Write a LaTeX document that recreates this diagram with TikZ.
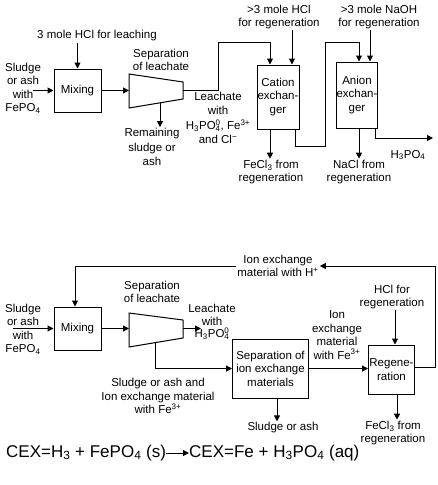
\documentclass[tikz,border=0pt]{standalone}
\usepackage{fontspec}
\setmainfont{Liberation Sans}
\usetikzlibrary{arrows.meta}
\begin{document}
\begin{tikzpicture}[x=1pt,y=-1pt,
  every node/.style={font=\fontsize{11.5}{13.5}\selectfont, inner sep=1pt},
  txt/.style={align=center},
  box/.style={draw, line width=1pt, align=center, inner sep=0pt},
  ln/.style={line width=1pt},
  arr/.style={ln, -{Triangle[length=6pt,width=6pt]}},
  eqf/.style={font=\fontsize{17}{20}\selectfont, anchor=west, inner sep=0pt}
]
\useasboundingbox (0,0) rectangle (437,485);

% ---------------- top process ----------------
\node[txt] (hcl1) at (97,36) {3 mole HCl for leaching};
\node[box, minimum width=47pt, minimum height=43pt] (mix1) at (77.5,90.5) {Mixing};
\node[txt] (feed1) at (23,88) {Sludge\\or ash\\with\\FePO\textsubscript{4}};
\coordinate (f1) at (33,90.5);
\draw[arr] (hcl1.south -| mix1.north) -- (mix1.north);
\draw[arr] (f1) -- (mix1.west);

\coordinate (t1nw) at (129,74);
\coordinate (t1ne) at (183,82);
\coordinate (t1se) at (183,99);
\coordinate (t1sw) at (129,108);
\coordinate (t1w) at (129,90.5);
\coordinate (t1e) at (183,90.5);
\coordinate (t1b) at (160,102.8);
\draw[ln] (t1nw) -- (t1ne) -- (t1se) -- (t1sw) -- cycle;
\node[txt] (sep1) at (161,60) {Separation\\of leachate};
\node[txt, font=\fontsize{11.5}{14.5}\selectfont] (rem1) at (152,147) {Remaining\\sludge or\\ash};
\draw[arr] (mix1.east) -- (t1w);
\draw[arr] (t1b) -- (t1b |- rem1.north);

\node[txt, font=\fontsize{11.5}{14.5}\selectfont] (lch1) at (218,118) {Leachate\\with\\H\textsubscript{3}PO\rlap{\textsubscript{4}}\textsuperscript{0}, Fe\textsuperscript{3+}\\and Cl\textsuperscript{−}};

\node[txt] (hcl2) at (279,17) {>3 mole HCl\\for regeneration};
\node[txt] (naoh) at (379,17) {>3 mole NaOH\\for regeneration};
\node[box, minimum width=42pt, minimum height=64pt] (cat) at (278,97) {Cation\\exchan-\\ger};
\node[box, minimum width=41pt, minimum height=66pt] (an) at (357,95) {Anion\\exchan-\\ger};
\node[txt] (fecl1) at (271,172) {FeCl\textsubscript{3} from\\regeneration};
\node[txt] (nacl) at (359,172) {NaCl from\\regeneration};
\node[txt] (h3) at (408,155) {H\textsubscript{3}PO\textsubscript{4}};
\coordinate (h3end) at (433,138);

\draw[arr] (t1e) -| (218,42) -| ([xshift=-8pt]cat.north);
\draw[arr] ([xshift=14pt]cat.north |- hcl2.south) -- ([xshift=14pt]cat.north);
\draw[arr] ([xshift=-8pt]cat.south) -- ([xshift=-8pt]cat.south |- fecl1.north);
\draw[arr] ([xshift=-4pt]cat.south east) -- ++(0,17) -| (325,42) -| ([xshift=2pt]an.north);
\draw[arr] ([xshift=13pt]an.north |- naoh.south) -- ([xshift=13pt]an.north);
\draw[arr] ([xshift=2pt]an.south) -- ([xshift=2pt]an.south |- nacl.north);
\draw[arr] ([xshift=-3pt]an.south east) |- (h3end);

% ---------------- bottom process ----------------
\node[box, minimum width=47pt, minimum height=43pt] (mix2) at (77.5,328.5) {Mixing};
\node[txt] (feed2) at (23,329) {Sludge\\or ash\\with\\FePO\textsubscript{4}};
\coordinate (f2) at (13,328.5);
\draw[arr] (f2) -- (mix2.west);

\coordinate (t2nw) at (129,313);
\coordinate (t2ne) at (183,320);
\coordinate (t2se) at (183,338);
\coordinate (t2sw) at (129,347);
\coordinate (t2w) at (129,328.5);
\coordinate (t2e) at (183,328.5);
\coordinate (t2b) at (155,342.7);
\draw[ln] (t2nw) -- (t2ne) -- (t2se) -- (t2sw) -- cycle;
\node[txt] (sep2) at (152,292) {Separation\\of leachate};
\draw[arr] (mix2.east) -- (t2w);

\node[txt, font=\fontsize{11.5}{12.5}\selectfont] (lch2) at (212,322) {Leachate\\with\\H\textsubscript{3}PO\rlap{\textsubscript{4}}\textsuperscript{0}};
\coordinate (l2end) at (201,328.5);
\draw[arr] (t2e) -- (l2end);

\node[box, minimum width=76pt, minimum height=59pt] (sepx) at (270.5,368.5) {Separation of\\ion exchange\\materials};
\draw[arr] (t2b) |- (sepx.west);
\node[txt] (sl2) at (158,396) {Sludge or ash and\\Ion exchange material\\with Fe\textsuperscript{3+}};
\node[txt] (sl3) at (283,428) {Sludge or ash};
\draw[arr] ([xshift=6.5pt]sepx.south) -- ([xshift=6.5pt]sepx.south |- sl3.north);

\node[box, minimum width=46pt, minimum height=49pt] (regen) at (391.5,369.5) {Regene-\\ration};
\draw[arr] (sepx.east) -- (sepx.east -| regen.west);
\node[txt] (ionfe) at (337,335) {Ion\\exchange\\material\\with Fe\textsuperscript{3+}};
\node[txt] (hcl3) at (392,297) {HCl for\\regeneration};
\draw[arr] ([xshift=3.5pt]regen.north |- hcl3.south) -- ([xshift=3.5pt]regen.north);
\node[txt] (fecl2) at (393,433) {FeCl\textsubscript{3} from\\regeneration};
\draw[arr] ([xshift=5.5pt]regen.south) -- ([xshift=5.5pt]regen.south |- fecl2.north);

\node[txt] (ionh) at (278,266) {Ion exchange\\material with H\textsuperscript{+}};
\draw[arr] ([yshift=2.5pt]regen.east) -- ++(20,0) |- (ionh.east);
\draw[arr] (ionh.west) -| ([xshift=-2.5pt]mix2.north);

% ---------------- equation ----------------
\node[eqf] (eqL) at (6,453) {CEX=H\textsubscript{3} + FePO\textsubscript{4} (s)};
\node[eqf] (eqR) at (189,453) {CEX=Fe + H\textsubscript{3}PO\textsubscript{4} (aq)};
\draw[arr] (eqL.east) -- (eqR.west);
\end{tikzpicture}
\end{document}
